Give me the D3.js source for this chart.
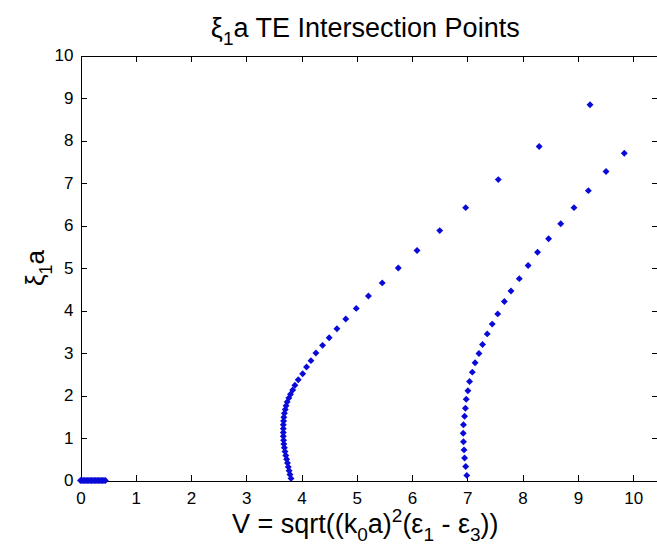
<!DOCTYPE html>
<html lang="en">
<head>
  <meta charset="utf-8">
  <title>xi1 a TE Intersection Points</title>
  <script src="https://d3js.org/d3.v7.min.js"></script>
  <style>
    html, body {
      margin: 0;
      padding: 0;
      background: #fff;
    }
    svg {
      display: block;
      font-family: "Liberation Sans", Arial, sans-serif;
    }
    .axis path, .axis line {
      stroke: #000;
      stroke-width: 1px;
      shape-rendering: crispEdges;
    }
    .axis text {
      font-size: 17px;
      fill: #000;
    }
    .pt {
      fill: #0a0ad8;
    }
  </style>
</head>
<body>
  <svg width="657" height="557"></svg>
  <script>
    // [V, xi1*a] pairs
    const mode1 = [
      [3.81, 0.05], [3.79, 0.14], [3.775, 0.23], [3.76, 0.32], [3.745, 0.41],
      [3.73, 0.50], [3.715, 0.59], [3.70, 0.68], [3.69, 0.77], [3.68, 0.86],
      [3.675, 0.95], [3.67, 1.04], [3.67, 1.13], [3.67, 1.22], [3.67, 1.31],
      [3.675, 1.40], [3.68, 1.49], [3.69, 1.58], [3.705, 1.67], [3.72, 1.76],
      [3.74, 1.85], [3.77, 1.94], [3.80, 2.03], [3.84, 2.13], [3.88, 2.24],
      [3.94, 2.37], [4.02, 2.51], [4.09, 2.67], [4.17, 2.82], [4.26, 3.00],
      [4.38, 3.18], [4.50, 3.36], [4.64, 3.57], [4.80, 3.80], [4.99, 4.05],
      [5.21, 4.34], [5.46, 4.65], [5.75, 5.00], [6.09, 5.41], [6.50, 5.88],
      [6.97, 6.42], [7.56, 7.08], [8.30, 7.86], [9.22, 8.84]
    ];
    const mode2 = [
      [6.99, 0.12], [6.97, 0.33], [6.95, 0.53], [6.94, 0.72], [6.93, 0.91],
      [6.925, 1.11], [6.93, 1.31], [6.95, 1.51], [6.965, 1.70], [6.98, 1.91],
      [7.01, 2.11], [7.04, 2.33], [7.09, 2.55], [7.14, 2.77], [7.21, 2.99],
      [7.275, 3.20], [7.36, 3.45], [7.45, 3.68], [7.55, 3.92], [7.67, 4.21],
      [7.79, 4.46], [7.94, 4.75], [8.10, 5.06], [8.27, 5.37], [8.47, 5.69],
      [8.69, 6.04], [8.93, 6.42], [9.19, 6.82], [9.51, 7.27], [9.84, 7.70]
    ];
    // points sitting on xi1*a = 0 near the origin (a solid run)
    const zeroV = [0, 0.025, 0.05, 0.075, 0.1, 0.125, 0.15, 0.175, 0.2, 0.225,
                   0.25, 0.275, 0.3, 0.325, 0.35, 0.375, 0.4, 0.425, 0.45];
    const xTicks = [0, 1, 2, 3, 4, 5, 6, 7, 8, 9, 10];
    const yTicks = [0, 1, 2, 3, 4, 5, 6, 7, 8, 9, 10];

    const svg = d3.select("svg");
    const plotLeft = 80.5, plotRight = 658, plotTop = 55.5, plotBottom = 480.5;

    const x = d3.scaleLinear().domain([0, 10.45]).range([plotLeft, plotRight]);
    const y = d3.scaleLinear().domain([0, 10]).range([plotBottom, plotTop]);

    // box with inward ticks on all four sides
    svg.append("g").attr("class", "axis")
      .attr("transform", `translate(0,${plotBottom})`)
      .call(d3.axisBottom(x).tickValues(xTicks).tickSizeInner(-6).tickSizeOuter(0).tickPadding(11));
    svg.append("g").attr("class", "axis")
      .attr("transform", `translate(0,${plotTop})`)
      .call(d3.axisTop(x).tickValues(xTicks).tickSizeInner(-6).tickSizeOuter(0).tickFormat(""));
    svg.append("g").attr("class", "axis")
      .attr("transform", `translate(${plotLeft},0)`)
      .call(d3.axisLeft(y).tickValues(yTicks).tickSizeInner(-6).tickSizeOuter(0).tickPadding(7));
    svg.append("g").attr("class", "axis")
      .attr("transform", `translate(${plotRight},0)`)
      .call(d3.axisRight(y).tickValues(yTicks).tickSizeInner(-6).tickSizeOuter(0).tickFormat(""));

    // markers
    const marker = d3.symbol(d3.symbolSquare, 24);
    const pts = mode1.concat(mode2).concat(zeroV.map(v => [v, 0]));
    svg.append("g")
      .selectAll("path")
      .data(pts)
      .enter()
      .append("path")
      .attr("class", "pt")
      .attr("d", marker)
      .attr("transform", d => `translate(${x(d[0])},${y(d[1])}) rotate(45)`);

    const cx = (plotLeft + plotRight) / 2;

    // title
    const title = svg.append("text")
      .attr("x", cx - 4).attr("y", 37)
      .attr("text-anchor", "middle")
      .style("font-size", "27px");
    title.append("tspan").text("ξ");
    title.append("tspan").attr("dy", 8).style("font-size", "19px").text("1");
    title.append("tspan").attr("dy", -8).text("a TE Intersection Points");

    // x label
    const xl = svg.append("text")
      .attr("x", cx - 4).attr("y", 533)
      .attr("text-anchor", "middle")
      .style("font-size", "27px");
    xl.append("tspan").text("V = sqrt((k");
    xl.append("tspan").attr("dy", 8).style("font-size", "19px").text("0");
    xl.append("tspan").attr("dy", -8).text("a)");
    xl.append("tspan").attr("dy", -11).style("font-size", "19px").text("2");
    xl.append("tspan").attr("dy", 11).text("(ε");
    xl.append("tspan").attr("dy", 8).style("font-size", "19px").text("1");
    xl.append("tspan").attr("dy", -8).text(" - ε");
    xl.append("tspan").attr("dy", 8).style("font-size", "19px").text("3");
    xl.append("tspan").attr("dy", -8).text("))");

    // y label
    const yl = svg.append("text")
      .attr("transform", `translate(44,${(plotTop + plotBottom) / 2}) rotate(-90)`)
      .attr("text-anchor", "middle")
      .style("font-size", "26px");
    yl.append("tspan").text("ξ");
    yl.append("tspan").attr("dy", 8).style("font-size", "18px").text("1");
    yl.append("tspan").attr("dy", -8).text("a");
  </script>
</body>
</html>
